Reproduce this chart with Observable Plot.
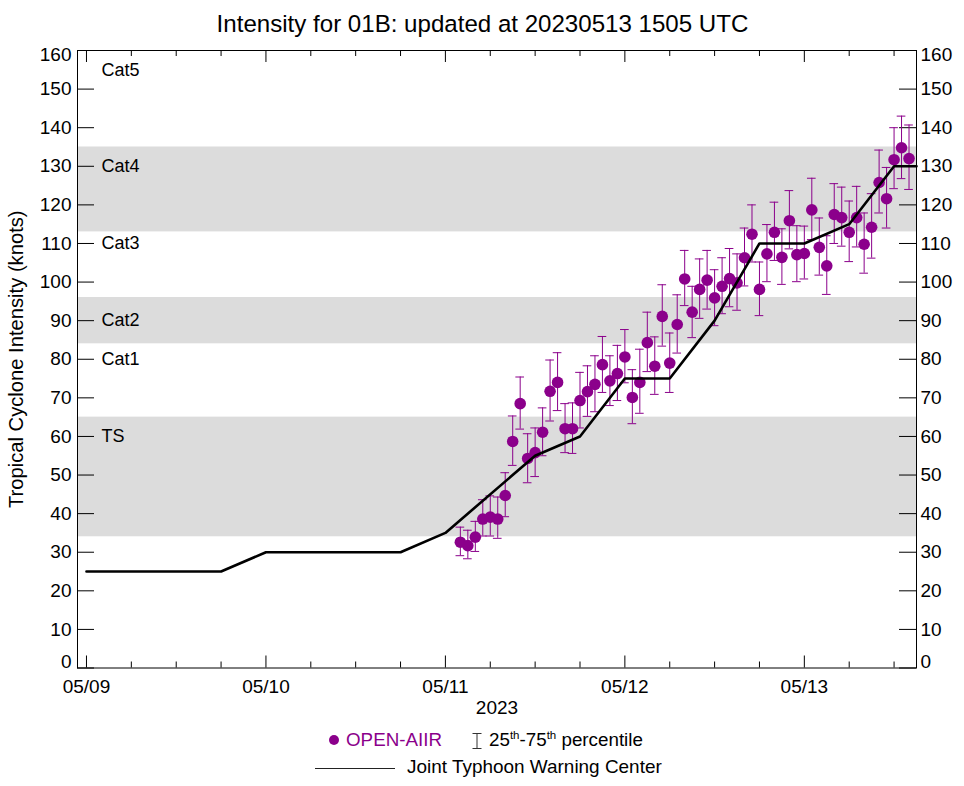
<!DOCTYPE html>
<html><head><meta charset="utf-8">
<script src="https://cdn.jsdelivr.net/npm/d3@7"></script>
<script src="https://cdn.jsdelivr.net/npm/@observablehq/plot@0.6"></script>
<style>
html,body{margin:0;padding:0;background:#fff;overflow:hidden}
body{width:964px;height:786px;position:relative;font-family:"Liberation Sans",Arial,sans-serif;color:#000}
#title{height:45px;line-height:47px;text-align:center;font-size:24.1px;white-space:nowrap;padding-left:1px}
#chart svg{display:block}
.lg{position:absolute;font-size:18.8px;line-height:20px;white-space:nowrap}
.lg sup{font-size:11.5px;line-height:0;vertical-align:baseline;position:relative;top:-7px}
</style></head><body>
<div id="title">Intensity for 01B: updated at 20230513 1505 UTC</div>
<div id="chart"></div>
<svg class="lg" style="left:326px;top:732px" width="16" height="16"><circle cx="8" cy="8" r="5" fill="#8b008b"/></svg>
<div class="lg" style="left:346px;top:730px;color:#8b008b">OPEN-AIIR</div>
<svg class="lg" style="left:470px;top:732px" width="14" height="18"><path d="M2.5 1.5H11.5M7 1.5V16.5M2.5 16.5H11.5" fill="none" stroke="#333" stroke-width="1"/></svg>
<div class="lg" style="left:489px;top:730px">25<sup>th</sup>-75<sup>th</sup> percentile</div>
<svg class="lg" style="left:315px;top:763px" width="80" height="10"><line x1="0" x2="80" y1="5.5" y2="5.5" stroke="#222" stroke-width="1"/></svg>
<div class="lg" style="left:407px;top:757px;font-size:18.95px">Joint Typhoon Warning Center</div>
<script>
const aiirHour = [50,51,52,53,54,55,56,57,58,59,60,61,62,63,64,65,66,67,68,69,70,71,72,73,74,75,76,77,78,79,80,81,82,83,84,85,86,87,88,89,90,91,92,93,94,95,96,97,98,99,100,101,102,103,104,105,106,107,108,109,110];
const aiirValue = [32.6,31.7,33.9,38.6,39.1,38.6,44.7,58.7,68.5,54.3,55.8,61.1,71.7,74,62,62,69.3,71.6,73.5,78.6,74.4,76.3,80.6,70.1,74,84.3,78.2,91.1,79,89,100.8,92.2,98.1,100.5,95.9,98.9,100.9,99.8,106.3,112.4,98.1,107.3,112.9,106.4,115.9,107.1,107.4,118.7,109,104.2,117.5,116.7,112.9,116.7,109.8,114.2,125.8,121.6,131.7,134.8,132];
const aiirP75 = [36.5,35.7,38,43.6,44.6,44.3,50.6,65.3,75.4,60.7,62.2,67.4,79.8,81.7,68.5,68.7,76.6,78.3,80.9,85.9,80.9,83.6,87.7,77.3,82.6,92.2,85.8,99.3,86.8,96.7,108.2,98.9,106,108.2,103.2,106.3,108.7,107.3,114,120,105.2,114.9,120.7,113.8,123.7,114.6,114.5,126.9,116.6,112,125.5,124.6,121,124.8,117.9,122.9,134.2,129.7,140,143,140.7];
const aiirP25 = [29.1,28.3,30.2,34.2,34.2,33.6,39.2,52.5,61.9,48,49.6,55,64,66.7,55.8,55.6,62.2,65.2,66.4,71.4,68,69.3,73.9,63.3,66,76.8,70.9,83.4,71.4,81.6,93.9,85.6,90.6,93,88.7,91.8,93.6,92.7,99,105.2,91.3,100.1,105.6,99.4,108.6,100.1,100.8,111,101.8,96.8,110,109.3,105.3,109.1,102.3,106.2,117.9,114,124.2,126.8,124];
const jtwcHour = [0,18,24,42,48,60,66,72,78,84,90,96,102,108,111];
const jtwcValue = [25,25,30,30,35,55,60,75,75,90,110,110,115,130,130];
const bandLow = [34,84,113];
const bandHigh = [65,96,135];
const catNames = ["TS","Cat1","Cat2","Cat3","Cat4","Cat5"];
const catY = [60,80,90,110,130,155];
const yTickValues = [10,20,30,40,50,60,70,80,90,100,110,120,130,140,150];
const majorHour = [0,24,48,72,96];
const minorHour = [6,12,18,30,36,42,54,60,66,78,84,90,102,108];
const allYTicks = [0,10,20,30,40,50,60,70,80,90,100,110,120,130,140,150,160];
const yTitle = ["Tropical Cyclone Intensity (knots)"];

const t0 = Date.UTC(2023,4,9);
const toDate = h => new Date(t0 + h*3600e3);
const capHalf = 0.58; // hours
const aiir = aiirHour.map((h,i)=>({h,date:toDate(h),v:aiirValue[i],hi:aiirP75[i],lo:aiirP25[i]}));
const jtwc = jtwcHour.map((h,i)=>({date:toDate(h),v:jtwcValue[i]}));
const bands = bandLow.map((l,i)=>({l,h:bandHigh[i]}));
const cats = catNames.map((n,i)=>({n,y:catY[i]}));
const PH = 617.5, ink = "#000", purple = "#8b008b", FS = 19;
const fmt = d3.utcFormat("%m/%d");

const plot = Plot.plot({
  width:964, height:675, marginTop:5, marginBottom:52.5, marginLeft:77, marginRight:48,
  style:{fontFamily:'"Liberation Sans",Arial,sans-serif',fontSize:"19px",color:"#000",background:"#fff"},
  x:{type:"utc",domain:[toDate(-1.2),toDate(111)]},
  y:{domain:[0,160]},
  marks:[
    Plot.rectY(bands,{y1:"l",y2:"h",fill:"#dcdcdc"}),
    Plot.tickX(majorHour.map(toDate),{insetTop:PH-12,stroke:ink,strokeOpacity:1}),
    Plot.tickX(majorHour.map(toDate),{insetBottom:PH-12,stroke:ink,strokeOpacity:1}),
    Plot.tickX(minorHour.map(toDate),{insetTop:PH-6,stroke:ink,strokeOpacity:1}),
    Plot.tickX(minorHour.map(toDate),{insetBottom:PH-6,stroke:ink,strokeOpacity:1}),
    Plot.tickY(allYTicks,{insetRight:839-17,stroke:ink,strokeOpacity:1}),
    Plot.tickY(allYTicks,{insetLeft:839-17,stroke:ink,strokeOpacity:1}),
    Plot.axisX({ticks:majorHour.map(toDate),tickSize:0,tickPadding:11,tickFormat:fmt,fontSize:FS,
      label:"2023",labelAnchor:"center",labelArrow:"none",labelOffset:46}),
    Plot.axisY({anchor:"left",ticks:yTickValues,tickSize:0,tickPadding:6,fontSize:FS,label:null}),
    Plot.axisY({anchor:"left",ticks:[0],tickSize:0,tickPadding:6,fontSize:FS,dy:-6,label:null}),
    Plot.axisY({anchor:"left",ticks:[160],tickSize:0,tickPadding:6,fontSize:FS,dy:4,label:null}),
    Plot.axisY({anchor:"right",ticks:yTickValues,tickSize:0,tickPadding:4,fontSize:FS,label:null}),
    Plot.axisY({anchor:"right",ticks:[0],tickSize:0,tickPadding:4,fontSize:FS,dy:-6,label:null}),
    Plot.axisY({anchor:"right",ticks:[160],tickSize:0,tickPadding:4,fontSize:FS,dy:4,label:null}),
    Plot.text(yTitle,{text:d=>d,frameAnchor:"left",rotate:-90,dx:-61,textAnchor:"middle",fontSize:20.2,fill:"#000"}),
    Plot.text(cats,{text:"n",y:"y",frameAnchor:"left",dx:24,textAnchor:"start",fontSize:18,fill:"#000"}),
    Plot.ruleX(aiir,{x:"date",y1:"lo",y2:"hi",stroke:purple,strokeWidth:1}),
    Plot.ruleY(aiir,{y:"hi",x1:d=>toDate(d.h-capHalf),x2:d=>toDate(d.h+capHalf),stroke:purple,strokeWidth:1}),
    Plot.ruleY(aiir,{y:"lo",x1:d=>toDate(d.h-capHalf),x2:d=>toDate(d.h+capHalf),stroke:purple,strokeWidth:1}),
    Plot.dot(aiir,{x:"date",y:"v",r:5.8,fill:purple,stroke:null}),
    Plot.line(jtwc,{x:"date",y:"v",stroke:"#000",strokeWidth:2.6,strokeLinejoin:"miter",curve:"linear"}),
    Plot.frame({stroke:"#000",strokeWidth:1})
  ]
});
document.getElementById("chart").appendChild(plot);
</script>
</body></html>
